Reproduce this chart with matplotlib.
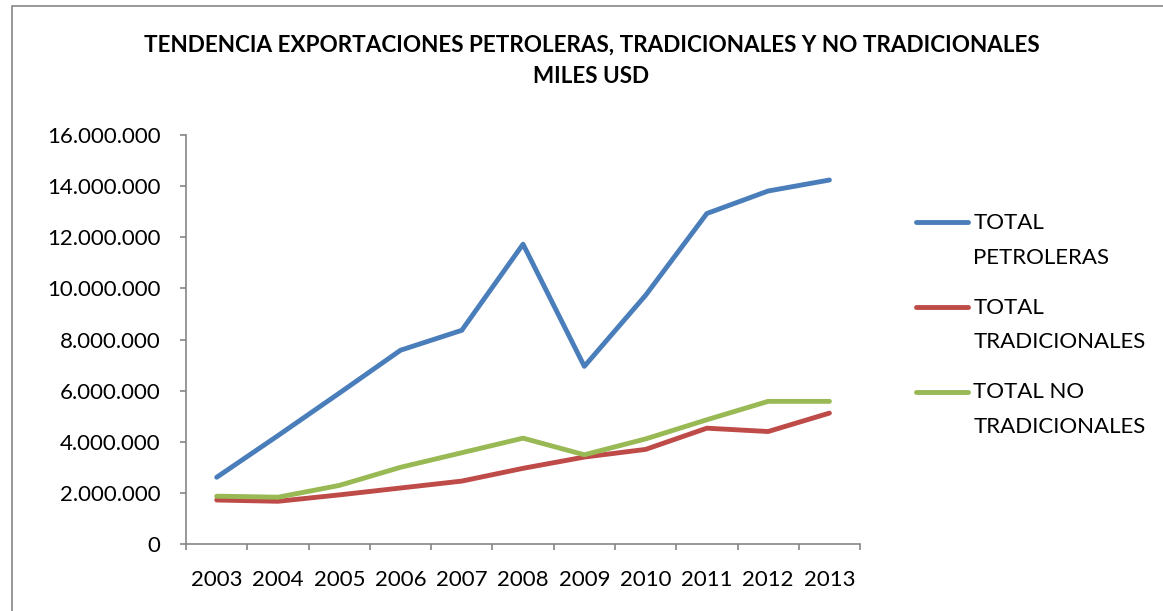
import matplotlib.pyplot as plt
from matplotlib.lines import Line2D
from matplotlib.patches import Rectangle
from matplotlib.ticker import FuncFormatter, FixedLocator

plt.rcParams["font.family"] = ["Lato", "DejaVu Sans"]

# data (miles USD)
years = ["2003", "2004", "2005", "2006", "2007", "2008", "2009", "2010", "2011", "2012", "2013"]
petroleras = [2610000, 4240000, 5900000, 7580000, 8360000, 11730000, 6950000, 9730000, 12930000, 13810000, 14240000]
tradicionales = [1720000, 1670000, 1920000, 2190000, 2460000, 2960000, 3400000, 3700000, 4530000, 4400000, 5120000]
no_tradicionales = [1870000, 1830000, 2290000, 3000000, 3570000, 4140000, 3490000, 4110000, 4860000, 5580000, 5580000]

labels = ["TOTAL\nPETROLERAS", "TOTAL\nTRADICIONALES", "TOTAL NO\nTRADICIONALES"]
colors = ["#4A7EBB", "#BE4B48", "#98B954"]

fig = plt.figure(figsize=(11.63, 6.11), dpi=100)
ax = fig.add_axes([0.160, 0.1097, 0.5795, 0.6693])

x = list(range(len(years)))
for vals, c in zip([petroleras, tradicionales, no_tradicionales], colors):
    ax.plot(x, vals, color=c, linewidth=3.5, solid_capstyle="round", solid_joinstyle="round")

ax.set_xlim(-0.5, len(years) - 0.5)
ax.set_ylim(0, 16000000)
ax.set_yticks(range(0, 16000001, 2000000))
ax.yaxis.set_major_formatter(FuncFormatter(lambda v, p: f"{int(v):,}".replace(",", ".")))

ax.set_xticks(x)
ax.set_xticklabels(years)
ax.xaxis.set_minor_locator(FixedLocator([i - 0.5 for i in range(len(years) + 1)]))
ax.tick_params(axis="x", which="major", length=0, pad=19, labelsize=16)
ax.tick_params(axis="x", which="minor", length=4.5, width=1.2, color="#868686", direction="out")
ax.tick_params(axis="y", length=4.5, width=1.2, color="#868686", labelsize=16, pad=14)

for s in ["top", "right"]:
    ax.spines[s].set_visible(False)
for s in ["left", "bottom"]:
    ax.spines[s].set_color("#868686")
    ax.spines[s].set_linewidth(1.2)

# title
fig.text(0.5086, 0.926, "TENDENCIA EXPORTACIONES PETROLERAS, TRADICIONALES Y NO TRADICIONALES",
         ha="center", va="center", fontsize=16.2, fontweight="bold")
fig.text(0.5086, 0.874, "MILES USD", ha="center", va="center", fontsize=16.2, fontweight="bold")

# legend (Excel style: handle next to first line)
leg_y = [0.636, 0.498, 0.359]
for lab, c, ly in zip(labels, colors, leg_y):
    fig.add_artist(Line2D([0.788, 0.832], [ly, ly], color=c, linewidth=3.5,
                          solid_capstyle="round", transform=fig.transFigure))
    fig.text(0.837, ly + 0.015, lab, ha="left", va="top", fontsize=16, linespacing=1.9)

# chart border
fig.add_artist(Rectangle((0.0105, -0.05), 1.2, 1.04, transform=fig.transFigure,
                         fill=False, edgecolor="#868686", linewidth=1.2))

fig.savefig("out.png", dpi=100)
